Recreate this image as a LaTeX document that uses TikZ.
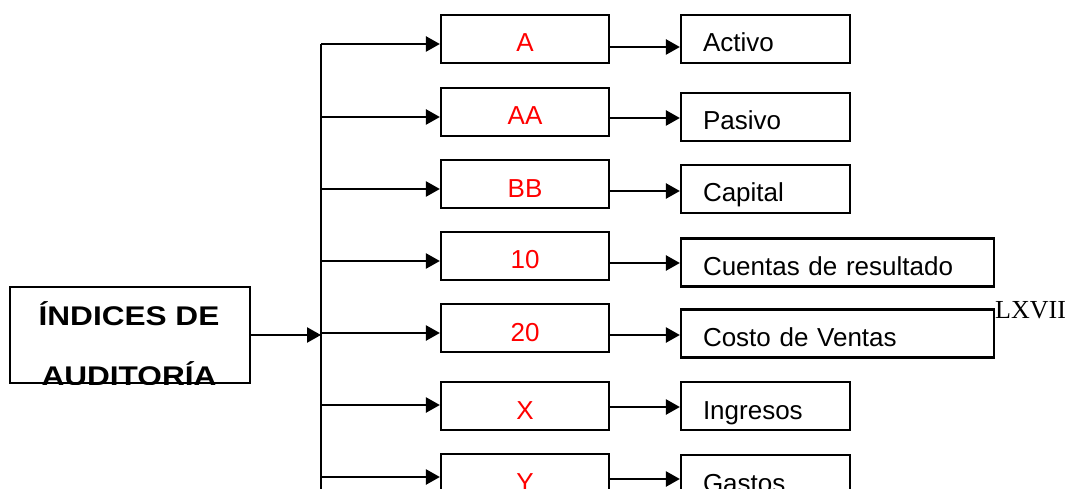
\documentclass[tikz,border=0pt]{standalone}
\usepackage{fontspec}
\setmainfont{Liberation Sans}
\newfontfamily\hdrfont[FakeStretch=1.17]{Liberation Sans}
\newfontfamily\pgnfont{Liberation Serif}
\usetikzlibrary{arrows.meta}

\begin{document}
\begin{tikzpicture}[x=1pt,y=-1pt,
    box/.style={draw, line width=2.2pt, minimum height=48pt, inner sep=0pt,
                font=\fontsize{26}{30}\selectfont, text height=30pt, text depth=4pt},
    codebox/.style={box, minimum width=168pt, text=red},
    namebox/.style={box, inner xsep=22pt, text width=125pt, align=left},
    longbox/.style={namebox, text width=269pt},
    hdr/.style={font=\hdrfont\bfseries\fontsize{27}{30}\selectfont, inner sep=0pt},
    arr/.style={line width=2.4pt, -{Triangle[length=14pt,width=15pt]}}]
    \clip (0,0) rectangle (1076,489);

    % header box, second line cut by the frame
    \node[draw, line width=2.2pt, minimum width=240pt, minimum height=96pt] (idx) at (130,335) {};
    \begin{scope}
        \clip (idx.north west) rectangle (idx.south east);
        \node[hdr, anchor=base] (idxa) at (129,325) {ÍNDICES DE};
        \node[hdr, anchor=base] (idxb) at (129,385) {AUDITORÍA};
    \end{scope}

    \coordinate (ttop) at (321,44);
    \coordinate (tbot) at (321,495);
    \draw[line width=2.4pt] (ttop) -- (tbot);
    \draw[arr] (idx.east) -- (idx.east -| ttop);

    % index codes
    \node[codebox] (ca)  at (525,39)  {A};
    \node[codebox] (caa) at (525,112) {AA};
    \node[codebox] (cbb) at (525,184) {BB};
    \node[codebox] (c10) at (525,256) {10};
    \node[codebox] (c20) at (525,328) {20};
    \node[codebox] (cx)  at (525,406) {X};
    \node[codebox] (cy)  at (525,478) {Y};

    % account groups
    \node[namebox] (nact) at (765.5,39)  {Activo};
    \node[namebox] (npas) at (765.5,117) {Pasivo};
    \node[namebox] (ncap) at (765.5,189) {Capital};
    \node[longbox] (ncue) at (837.5,262.5) {Cuentas de resultado};
    \node[longbox] (ncos) at (837.5,333.5) {Costo de Ventas};
    \node[namebox] (ning) at (765.5,406) {Ingresos};
    \node[namebox] (ngas) at (765.5,479) {Gastos};

    \foreach \c/\y in {ca/44, caa/117, cbb/189, c10/261, c20/333, cx/405, cy/477}
        \draw[arr] (ttop |- 0,\y) -- (\c.west |- 0,\y);
    \foreach \c/\n/\y in {ca/nact/47, caa/npas/118, cbb/ncap/191, c10/ncue/263,
                          c20/ncos/335, cx/ning/407, cy/ngas/479}
        \draw[arr] (\c.east |- 0,\y) -- (\n.west |- 0,\y);

    \node[font=\pgnfont\fontsize{26}{30}\selectfont, anchor=base west, inner sep=0pt] (pg) at (995,318) {LXVII};
\end{tikzpicture}
\end{document}
